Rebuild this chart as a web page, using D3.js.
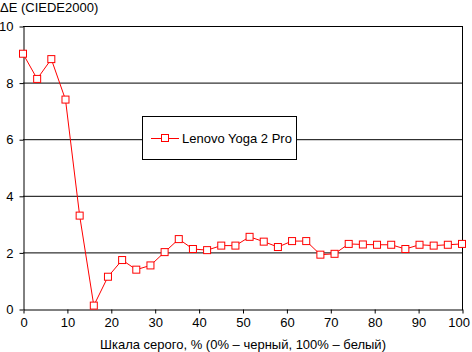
<!DOCTYPE html>
<html>
<head>
<meta charset="utf-8">
<script src="https://cdn.jsdelivr.net/npm/d3@7"></script>
<style>
  html, body { margin: 0; padding: 0; background: #fff; }
  svg { display: block; }
  text { font-family: "Liberation Sans", Arial, sans-serif; fill: #000; }
</style>
</head>
<body>
<svg id="chart" width="472" height="352"></svg>
<script>
const seriesName = "Lenovo Yoga 2 Pro";
const deltaE = [9.02, 8.13, 8.83, 7.40, 3.30, 0.12, 1.14, 1.73, 1.39, 1.54,
                2.01, 2.47, 2.12, 2.08, 2.24, 2.24, 2.55, 2.38, 2.19, 2.40,
                2.40, 1.92, 1.95, 2.30, 2.28, 2.27, 2.27, 2.12, 2.27, 2.24,
                2.27, 2.30];
const grayLevels = deltaE.map((d, i) => i * 100 / (deltaE.length - 1));
const xTicks = [0, 10, 20, 30, 40, 50, 60, 70, 80, 90, 100];
const yTicks = [0, 2, 4, 6, 8, 10];
const yTitle = "ΔE (CIEDE2000)";
const xTitle = "Шкала серого, % (0% – черный, 100% – белый)";

const svg = d3.select("#chart");
const mLeft = 23, mRight = 462, mTop = 26, mBottom = 309;
const x = d3.scaleLinear().domain([0, 100]).range([mLeft, mRight]);
const y = d3.scaleLinear().domain([0, 10]).range([mBottom, mTop]);

// gridlines
svg.append("g").selectAll("line").data(yTicks.filter(d => d > 0)).join("line")
  .attr("x1", mLeft).attr("x2", mRight)
  .attr("y1", d => y(d) + 0.5).attr("y2", d => y(d) + 0.5)
  .attr("stroke", "#000").attr("stroke-width", 1);
// right frame
svg.append("line").attr("x1", mRight + 0.5).attr("x2", mRight + 0.5)
  .attr("y1", mTop).attr("y2", mBottom + 1).attr("stroke", "#000");

// axes
const xAxis = d3.axisBottom(x).tickValues(xTicks).tickSize(4).tickPadding(4).tickSizeOuter(0);
const gx = svg.append("g").attr("transform", `translate(0.5,${mBottom + 0.5})`).call(xAxis);
gx.select(".domain").attr("stroke", "#000");
gx.selectAll(".tick line").attr("stroke", "#000");
gx.selectAll(".tick text").attr("font-size", 13).attr("font-family", '"Liberation Sans", Arial, sans-serif').attr("fill", "#000");
// keep the last label inside the picture, as in the reference
gx.selectAll(".tick text").filter(d => d === 100).attr("text-anchor", "end").attr("dx", 7);

const yAxis = d3.axisLeft(y).tickValues(yTicks).tickSize(4).tickPadding(6).tickSizeOuter(0);
const gy = svg.append("g").attr("transform", `translate(${mLeft + 0.5},0.5)`).call(yAxis);
gy.select(".domain").attr("stroke", "#000");
gy.selectAll(".tick line").attr("stroke", "#000");
gy.selectAll(".tick text").attr("font-size", 13).attr("font-family", '"Liberation Sans", Arial, sans-serif').attr("fill", "#000");

// titles
svg.append("text").attr("x", 0).attr("y", 12).attr("font-size", 13).text(yTitle);
svg.append("text").attr("x", 243).attr("y", 349).attr("font-size", 13)
  .attr("text-anchor", "middle").text(xTitle);

// series
const pts = deltaE.map((v, i) => [grayLevels[i], v]);
svg.append("path").datum(pts)
  .attr("fill", "none").attr("stroke", "#ff0000").attr("stroke-width", 1)
  .attr("d", d3.line().x(d => x(d[0])).y(d => y(d[1])));
svg.append("g").selectAll("rect").data(pts).join("rect")
  .attr("x", d => x(d[0]) - 3.5).attr("y", d => y(d[1]) - 3.5)
  .attr("width", 7).attr("height", 7)
  .attr("fill", "#fff").attr("stroke", "#ff0000").attr("stroke-width", 1);

// legend
const lg = svg.append("g");
lg.append("rect").attr("x", 142.5).attr("y", 116.5).attr("width", 154).attr("height", 43)
  .attr("fill", "#fff").attr("stroke", "#000");
lg.append("line").attr("x1", 151).attr("x2", 179).attr("y1", 138.5).attr("y2", 138.5)
  .attr("stroke", "#ff0000");
lg.append("rect").attr("x", 161.5).attr("y", 134.5).attr("width", 7).attr("height", 7)
  .attr("fill", "#fff").attr("stroke", "#ff0000");
lg.append("text").attr("x", 182).attr("y", 143).attr("font-size", 13).text(seriesName);
</script>
</body>
</html>
